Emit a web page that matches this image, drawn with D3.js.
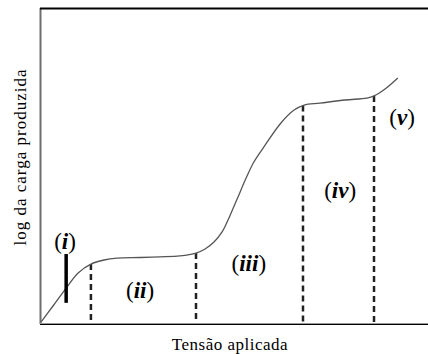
<!DOCTYPE html>
<html>
<head>
<meta charset="utf-8">
<script src="https://cdn.jsdelivr.net/npm/d3@7"></script>
<style>
  html, body { margin: 0; padding: 0; background: #fff; }
  svg { display: block; }
  svg text { font-family: 'Liberation Serif', 'Times New Roman', serif !important; }
</style>
</head>
<body>
<svg></svg>
<script>
'use strict';
// curve, arbitrary units (0-100 on both axes)
var tensao = [0, 3.1, 6.5, 9.6, 12.9, 16.3, 19.6, 25.6, 30.7, 35.9, 40.05, 42.4, 44.7, 46.8, 48.8, 50.9, 53.0, 55.0, 57.6, 62.0, 65.4, 68.0, 72.1, 78.6, 84.2, 86.05, 88.9, 92.2];
var carga = [0.3, 5.4, 11.1, 15.9, 18.7, 20.0, 20.6, 20.8, 21.0, 21.3, 22.2, 23.5, 25.7, 28.9, 34.0, 40.0, 46.0, 51.1, 55.9, 63.5, 67.6, 69.2, 69.8, 70.8, 71.4, 72.1, 74.3, 77.8];
// region boundaries (dashed) and the marker for region (i)
var limites = [12.9, 40.05, 67.7, 86.05];
var marcador = { x: 6.5, y0: 6.4, y1: 21.9 };
// region labels
var regioes = ['i', 'ii', 'iii', 'iv', 'v'];
var regiaoX = [6.2, 25.6, 53.7, 77.3, 93.3];
var regiaoY = [23.5, 7.9, 16.5, 39.7, 62.9];
var xTitulo = 'Tensão aplicada';
var yTitulo = 'log da carga produzida';

var fontes = ['Liberation Serif', 'Times New Roman'];
var fonte = fontes.map(function(f) { return "'" + f + "'"; }).join(', ') + ', serif';
var canvasWidth = 428;
var canvasHeight = 354;
var margin = { top: 8, right: 0, bottom: 31, left: 41 };
var width = canvasWidth - margin.left - margin.right;
var height = canvasHeight - margin.top - margin.bottom;

var svg = d3.select('svg')
  .attr('width', canvasWidth)
  .attr('height', canvasHeight);

var xScale = d3.scaleLinear().domain([0, 100]).range([0, width]);
var yScale = d3.scaleLinear().domain([0, 100]).range([height, 0]);

var g = svg.append('g')
  .attr('transform', 'translate(' + margin.left + ',' + margin.top + ')');

// frame: left and bottom axes, plus a top rule (no right side)
g.append('line')
  .attr('x1', xScale(0) - 0.5).attr('x2', xScale(0) - 0.5)
  .attr('y1', yScale(100)).attr('y2', yScale(0) + 1)
  .attr('stroke', '#6e6e6e').attr('stroke-width', 2);
g.append('line')
  .attr('x1', xScale(0) - 1).attr('x2', xScale(100))
  .attr('y1', yScale(100) + 0.5).attr('y2', yScale(100) + 0.5)
  .attr('stroke', '#000').attr('stroke-width', 2);
g.append('line')
  .attr('x1', xScale(0) - 1).attr('x2', xScale(100))
  .attr('y1', yScale(0) + 0.5).attr('y2', yScale(0) + 0.5)
  .attr('stroke', '#9a9a9a').attr('stroke-width', 1);
g.append('line')
  .attr('x1', xScale(0) - 1).attr('x2', xScale(100))
  .attr('y1', yScale(0) + 1.5).attr('y2', yScale(0) + 1.5)
  .attr('stroke', '#000').attr('stroke-width', 1);

var pts = tensao.map(function(t, i) { return [t, carga[i]]; });
var curva = d3.line()
  .x(function(d) { return xScale(d[0]); })
  .y(function(d) { return yScale(d[1]); })
  .curve(d3.curveCatmullRom.alpha(0.5));

// y of the curve at a given x, for the dashed drops
var yEm = function(x) {
  var i = d3.bisectLeft(tensao, x);
  if (i <= 0) return carga[0];
  var t = (x - tensao[i - 1]) / (tensao[i] - tensao[i - 1]);
  return carga[i - 1] + t * (carga[i] - carga[i - 1]);
};

g.selectAll('line.limite').data(limites)
  .enter().append('line')
  .attr('class', 'limite')
  .attr('x1', function(d) { return xScale(d); })
  .attr('x2', function(d) { return xScale(d); })
  .attr('y1', function(d) { return yScale(yEm(d)); })
  .attr('y2', yScale(0) - 1)
  .attr('stroke', '#222')
  .attr('stroke-width', 2.5)
  .attr('stroke-dasharray', '6,4');

g.append('path')
  .datum(pts)
  .attr('d', curva)
  .attr('fill', 'none')
  .attr('stroke', '#555')
  .attr('stroke-width', 1.3);

g.append('line')
  .attr('x1', xScale(marcador.x)).attr('x2', xScale(marcador.x))
  .attr('y1', yScale(marcador.y1)).attr('y2', yScale(marcador.y0))
  .attr('stroke', '#000').attr('stroke-width', 3.5);

var rotulos = g.selectAll('text.regiao').data(regioes)
  .enter().append('text')
  .attr('class', 'regiao')
  .attr('x', function(d, i) { return xScale(regiaoX[i]); })
  .attr('y', function(d, i) { return yScale(regiaoY[i]); })
  .attr('text-anchor', 'middle')
  .style('font-family', fonte)
  .style('font-size', '23px');
rotulos.append('tspan').text('(');
rotulos.append('tspan')
  .style('font-style', 'italic')
  .style('font-weight', 'bold')
  .text(function(d) { return d; });
rotulos.append('tspan').text(')');

svg.append('text')
  .attr('x', 230)
  .attr('y', 350)
  .attr('text-anchor', 'middle')
  .style('font-family', fonte)
  .style('font-size', '17px')
  .style('letter-spacing', '0.5px')
  .text(xTitulo);

svg.append('text')
  .attr('transform', 'translate(26,157) rotate(-90)')
  .attr('text-anchor', 'middle')
  .style('font-family', fonte)
  .style('font-size', '17px')
  .style('letter-spacing', '1px')
  .text(yTitulo);
</script>
</body>
</html>
